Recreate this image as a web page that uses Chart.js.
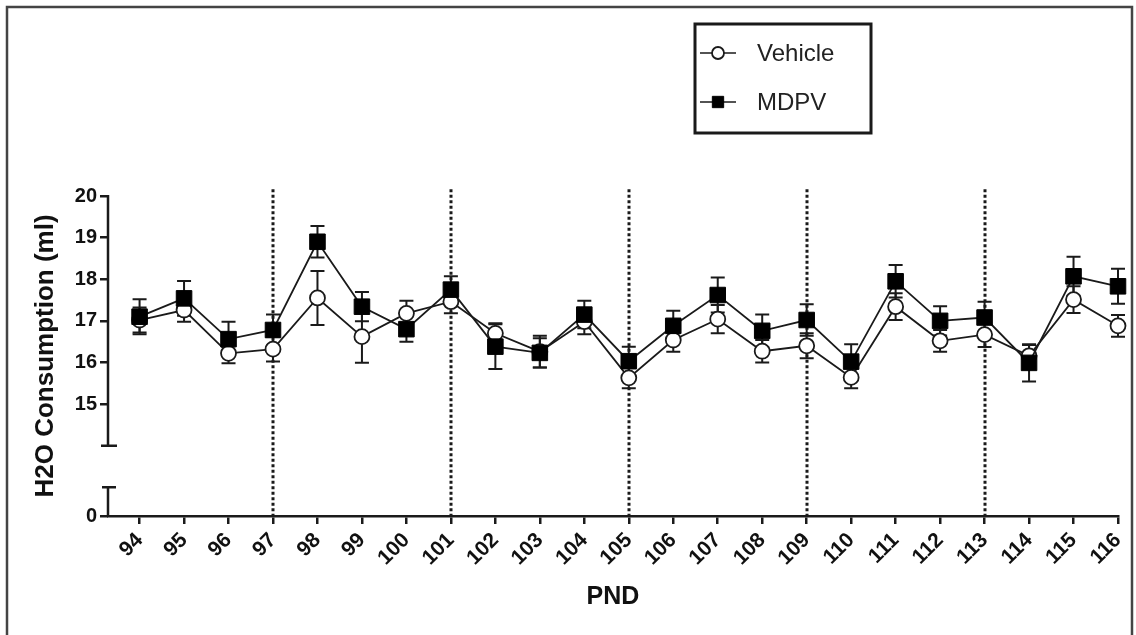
<!DOCTYPE html>
<html>
<head>
<meta charset="utf-8">
<script src="https://cdn.jsdelivr.net/npm/chart.js@4.4.1/dist/chart.umd.min.js"></script>
<style>
  html, body { margin: 0; padding: 0; background: #fff; }
  #wrap { position: relative; width: 1136px; height: 635px; }
</style>
</head>
<body>
<div id="wrap"><canvas id="chart"></canvas></div>
<script>
// data (PND 94-116)
const days = [94, 95, 96, 97, 98, 99, 100, 101, 102, 103, 104, 105, 106, 107, 108, 109, 110, 111, 112, 113, 114, 115, 116];
const vehicleMean = [17.02, 17.26, 16.22, 16.32, 17.55, 16.62, 17.18, 17.46, 16.70, 16.26, 16.98, 15.63, 16.54, 17.04, 16.27, 16.40, 15.64, 17.34, 16.52, 16.67, 16.16, 17.51, 16.88];
const vehicleSem = [0.30, 0.28, 0.24, 0.30, 0.65, 0.63, 0.30, 0.28, 0.24, 0.38, 0.30, 0.25, 0.28, 0.34, 0.27, 0.30, 0.26, 0.32, 0.26, 0.30, 0.26, 0.32, 0.26];
const mdpvMean = [17.10, 17.54, 16.56, 16.78, 18.90, 17.34, 16.80, 17.75, 16.38, 16.23, 17.15, 16.03, 16.88, 17.62, 16.76, 17.02, 16.02, 17.95, 17.00, 17.08, 15.99, 18.07, 17.83];
const mdpvSem = [0.42, 0.42, 0.42, 0.37, 0.38, 0.35, 0.30, 0.32, 0.54, 0.35, 0.33, 0.35, 0.36, 0.42, 0.39, 0.38, 0.42, 0.39, 0.35, 0.38, 0.45, 0.47, 0.42];
const yTicks = [15, 16, 17, 18, 19, 20];
const breakLabel = "0";
const dividerDays = [97, 101, 105, 109, 113];

// broken axis: the bottom of the scale stands for 0
const yMin = 12.31, yMax = 20;
const upperSegmentBottom = 14, lowerSegmentTop = 13.0;
const xMin = 93.29, xMax = 116;

const INK = "#1a1a1a";
const FONT = "'Liberation Sans', Arial, sans-serif";

const errorBars = {
  id: "errorBars",
  beforeDatasetsDraw(chart) {
    const { ctx, scales: { x, y } } = chart;
    ctx.save();
    // dotted dividers
    ctx.strokeStyle = INK;
    ctx.lineWidth = 3;
    ctx.setLineDash([3, 2.5]);
    dividerDays.forEach(d => {
      const px = Math.round(x.getPixelForValue(d));
      ctx.beginPath();
      ctx.moveTo(px, y.getPixelForValue(20.16));
      ctx.lineTo(px, y.getPixelForValue(yMin));
      ctx.stroke();
    });
    ctx.setLineDash([]);
    ctx.lineWidth = 2;
    chart.data.datasets.forEach(ds => {
      ds.data.forEach((p, i) => {
        const px = x.getPixelForValue(p.x);
        const top = y.getPixelForValue(p.y + ds.sem[i]);
        const bot = y.getPixelForValue(p.y - ds.sem[i]);
        ctx.beginPath();
        ctx.moveTo(px, top); ctx.lineTo(px, bot);
        ctx.moveTo(px - 7, top); ctx.lineTo(px + 7, top);
        ctx.moveTo(px - 7, bot); ctx.lineTo(px + 7, bot);
        ctx.stroke();
      });
    });
    ctx.restore();
  },
  afterDraw(chart) {
    const { ctx, scales: { y } } = chart;
    const ax = chart.chartArea.left;
    ctx.save();
    // broken y axis line
    ctx.strokeStyle = INK;
    ctx.lineWidth = 2.5;
    const y20 = y.getPixelForValue(yMax), y14 = y.getPixelForValue(upperSegmentBottom);
    const y13 = y.getPixelForValue(lowerSegmentTop), y0 = y.getPixelForValue(yMin);
    ctx.beginPath();
    ctx.moveTo(ax, y20 - 1); ctx.lineTo(ax, y14);
    ctx.moveTo(ax - 7, y14); ctx.lineTo(ax + 9, y14);
    ctx.moveTo(ax - 6, y13); ctx.lineTo(ax + 8, y13);
    ctx.moveTo(ax, y13); ctx.lineTo(ax, y0);
    ctx.stroke();

    // legend
    const lx = 695, ly = 24, lw = 176, lh = 109;
    ctx.lineWidth = 3;
    ctx.strokeRect(lx, ly, lw, lh);
    const order = [1, 0];
    const rows = [53, 102];
    ctx.font = "24px " + FONT;
    ctx.textBaseline = "middle";
    order.forEach((di, r) => {
      const ds = chart.data.datasets[di];
      const cy = rows[r];
      ctx.strokeStyle = INK;
      ctx.lineWidth = 1.6;
      ctx.beginPath();
      ctx.moveTo(700, cy); ctx.lineTo(736, cy);
      ctx.stroke();
      ctx.fillStyle = ds.pointBackgroundColor;
      ctx.strokeStyle = ds.pointBorderColor;
      ctx.lineWidth = ds.pointBorderWidth;
      Chart.helpers.drawPoint(ctx, {
        pointStyle: ds.pointStyle,
        radius: ds.pointStyle === "rect" ? 8 : 6,
        borderWidth: ds.pointBorderWidth
      }, 718, cy);
      ctx.fillStyle = "#222";
      ctx.fillText(ds.label, 757, cy + 1);
    });

    // picture frame
    ctx.strokeStyle = "#444";
    ctx.lineWidth = 2.5;
    ctx.beginPath();
    ctx.moveTo(7, 640); ctx.lineTo(7, 7); ctx.lineTo(1132, 7); ctx.lineTo(1132, 640);
    ctx.stroke();
    ctx.restore();
  }
};

new Chart(document.getElementById("chart"), {
  type: "line",
  data: {
    datasets: [
      {
        label: "MDPV",
        data: days.map((d, i) => ({ x: d, y: mdpvMean[i] })),
        sem: mdpvSem,
        order: 0,
        clip: false,
        borderColor: INK,
        borderWidth: 1.8,
        pointStyle: "rect",
        pointRadius: 11,
        pointBackgroundColor: "#000",
        pointBorderColor: "#000",
        pointBorderWidth: 1,
        tension: 0
      },
      {
        label: "Vehicle",
        data: days.map((d, i) => ({ x: d, y: vehicleMean[i] })),
        sem: vehicleSem,
        order: 1,
        clip: false,
        borderColor: INK,
        borderWidth: 1.8,
        pointStyle: "circle",
        pointRadius: 7.5,
        pointBackgroundColor: "#fff",
        pointBorderColor: INK,
        pointBorderWidth: 1.8,
        tension: 0
      }
    ]
  },
  options: {
    responsive: true,
    maintainAspectRatio: false,
    animation: false,
    layout: { padding: { top: 196, right: 18, bottom: 0, left: 8 } },
    plugins: { legend: { display: false }, tooltip: { enabled: false } },
    scales: {
      x: {
        type: "linear",
        min: xMin,
        max: xMax,
        afterBuildTicks: s => { s.ticks = days.map(v => ({ value: v })); },
        afterFit: s => { s.height = 119; s.paddingRight = 0; s.paddingLeft = 0; },
        border: { display: true, color: INK, width: 2.5 },
        grid: { drawOnChartArea: false, drawTicks: true, tickLength: 8, color: INK, lineWidth: 2.5 },
        ticks: {
          minRotation: 45, maxRotation: 45, padding: 4, autoSkip: false,
          color: "#111", font: { family: FONT, size: 21, weight: "bold" }
        },
        title: {
          display: true, text: "PND", color: "#111",
          font: { family: FONT, size: 25, weight: "bold" },
          padding: { top: 0, bottom: 23 }
        }
      },
      y: {
        type: "linear",
        min: yMin,
        max: yMax,
        afterBuildTicks: s => { s.ticks = [{ value: yMin }].concat(yTicks.map(v => ({ value: v }))); },
        afterFit: s => { s.width = 100; },
        border: { display: false },
        grid: { drawOnChartArea: false, drawTicks: true, tickLength: 8, color: INK, lineWidth: 2.5 },
        ticks: {
          padding: 3, color: "#111",
          font: { family: FONT, size: 20, weight: "bold" },
          callback: v => (v === yMin ? breakLabel : v)
        },
        title: {
          display: true, text: "H2O Consumption (ml)", color: "#111",
          font: { family: FONT, size: 26, weight: "bold" },
          padding: { top: 22, bottom: 0 }
        }
      }
    }
  },
  plugins: [errorBars]
});
</script>
</body>
</html>
